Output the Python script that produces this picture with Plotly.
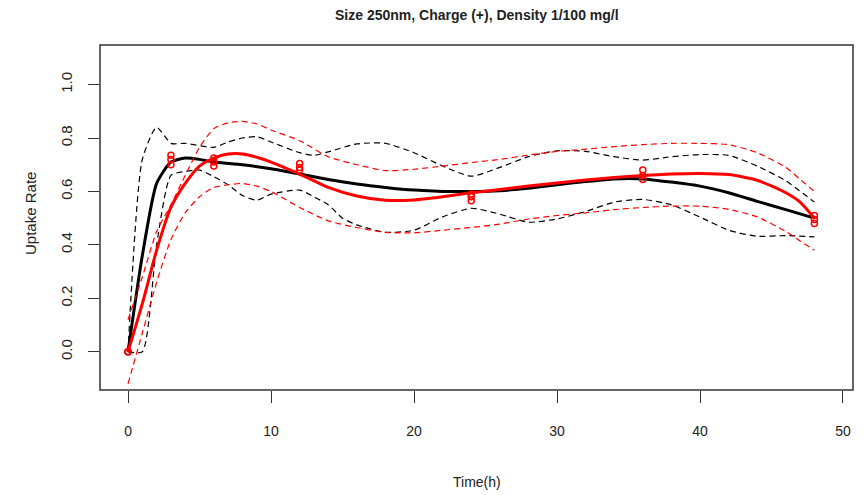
import plotly.graph_objects as go

# ---- data -------------------------------------------------------------
# smoothed mean uptake, black group
bk_t = [0, 1, 2, 3, 4, 5, 6, 8, 10, 12, 14, 16, 18, 20, 22, 24, 26, 28, 30,
        32, 34, 36, 38, 40, 42, 44, 46, 48]
bk_fit = [0.0, 0.36, 0.63, 0.71, 0.725, 0.72, 0.71, 0.70, 0.685, 0.665, 0.645,
          0.628, 0.615, 0.605, 0.60, 0.60, 0.603, 0.612, 0.625, 0.637, 0.647,
          0.647, 0.635, 0.62, 0.595, 0.563, 0.532, 0.50]

# upper band, black group
bk_hi_t = [0, 1, 2, 3, 4, 6, 7, 8, 9, 10, 12, 13, 14, 16, 18, 20, 22, 24, 26,
           28, 30, 32, 34, 36, 38, 40, 42, 44, 46, 48]
bk_hi = [0.0, 0.72, 0.84, 0.78, 0.78, 0.765, 0.785, 0.80, 0.805, 0.785, 0.745,
         0.735, 0.748, 0.778, 0.78, 0.745, 0.695, 0.657, 0.69, 0.73, 0.752,
         0.75, 0.73, 0.717, 0.73, 0.738, 0.735, 0.695, 0.64, 0.56]

# lower band, black group
bk_lo_t = [0, 1, 2, 3, 4, 5, 6, 7, 8, 9, 10, 12, 13, 14, 15, 16, 18, 20, 22,
           24, 26, 28, 30, 32, 34, 36, 38, 40, 42, 44, 46, 48]
bk_lo = [0.0, 0.0, 0.40, 0.66, 0.675, 0.68, 0.655, 0.625, 0.585, 0.567, 0.59,
         0.605, 0.58, 0.55, 0.50, 0.475, 0.447, 0.455, 0.505, 0.537, 0.515,
         0.485, 0.497, 0.525, 0.56, 0.57, 0.55, 0.504, 0.455, 0.432, 0.435,
         0.43]

# smoothed mean uptake, red group
rd_t = [0, 1, 2, 3, 4, 5, 6, 7, 8, 9, 10, 12, 14, 16, 18, 20, 22, 24, 26, 28,
        30, 32, 34, 36, 38, 40, 42, 44, 46, 47, 48]
rd_fit = [0.0, 0.18, 0.38, 0.54, 0.63, 0.695, 0.725, 0.74, 0.74, 0.728, 0.71,
          0.665, 0.615, 0.583, 0.567, 0.568, 0.58, 0.595, 0.607, 0.62, 0.632,
          0.643, 0.652, 0.66, 0.665, 0.667, 0.663, 0.642, 0.595, 0.56, 0.50]

# upper band, red group
rd_hi = [0.12, 0.28, 0.45, 0.55, 0.66, 0.765, 0.835, 0.857, 0.862, 0.853,
         0.83, 0.79, 0.73, 0.70, 0.678, 0.683, 0.695, 0.708, 0.72, 0.736,
         0.75, 0.758, 0.768, 0.775, 0.78, 0.78, 0.775, 0.745, 0.69, 0.645,
         0.60]

# lower band, red group
rd_lo = [-0.12, 0.07, 0.26, 0.42, 0.52, 0.58, 0.615, 0.625, 0.63, 0.62, 0.60,
         0.54, 0.49, 0.465, 0.447, 0.445, 0.455, 0.465, 0.478, 0.497, 0.51,
         0.52, 0.532, 0.54, 0.545, 0.545, 0.533, 0.505, 0.45, 0.415, 0.38]

# observed replicates
obs_t = [0, 0, 0, 3, 3, 3, 6, 6, 6, 12, 12, 12, 24, 24, 24, 36, 36, 36,
         48, 48, 48]
obs_y = [0.0, 0.0, 0.0, 0.735, 0.72, 0.70, 0.725, 0.71, 0.695, 0.705, 0.69,
         0.68, 0.59, 0.58, 0.565, 0.68, 0.66, 0.645, 0.51, 0.495, 0.48]

x_ticks = [0, 10, 20, 30, 40, 50]
y_ticks = [0.0, 0.2, 0.4, 0.6, 0.8, 1.0]
y_tick_text = ["0.0", "0.2", "0.4", "0.6", "0.8", "1.0"]

title_text = "Size 250nm, Charge (+), Density 1/100 mg/l"
x_title = "Time(h)"
y_title = "Uptake Rate"

# ---- figure -----------------------------------------------------------
FONT = "Liberation Sans, Arial, sans-serif"
INK = "#222222"
RED = "#ff0000"

fig = go.Figure()

dash = "6px,4px"
fig.add_trace(go.Scatter(x=bk_hi_t, y=bk_hi, mode="lines",
                         line=dict(color="#000000", width=1.2, dash=dash,
                                   shape="spline", smoothing=0.6)))
fig.add_trace(go.Scatter(x=bk_lo_t, y=bk_lo, mode="lines",
                         line=dict(color="#000000", width=1.2, dash=dash,
                                   shape="spline", smoothing=0.6)))
fig.add_trace(go.Scatter(x=bk_t, y=bk_fit, mode="lines",
                         line=dict(color="#000000", width=3,
                                   shape="spline", smoothing=0.6)))
fig.add_trace(go.Scatter(x=rd_t, y=rd_hi, mode="lines",
                         line=dict(color=RED, width=1.2, dash=dash,
                                   shape="spline", smoothing=0.6)))
fig.add_trace(go.Scatter(x=rd_t, y=rd_lo, mode="lines",
                         line=dict(color=RED, width=1.2, dash=dash,
                                   shape="spline", smoothing=0.6)))
fig.add_trace(go.Scatter(x=rd_t, y=rd_fit, mode="lines",
                         line=dict(color=RED, width=3,
                                   shape="spline", smoothing=0.6)))
fig.add_trace(go.Scatter(x=obs_t, y=obs_y, mode="markers",
                         marker=dict(symbol="circle-open", size=6,
                                     color=RED, line=dict(width=1.5, color=RED))))

fig.update_layout(
    width=864, height=495,
    margin=dict(l=100, r=11, t=45, b=105),
    paper_bgcolor="white", plot_bgcolor="white",
    showlegend=False,
    font=dict(family=FONT, color=INK, size=14),
    xaxis=dict(range=[-1.96, 50.7], tickvals=x_ticks, ticks="outside",
               ticklen=12, tickwidth=1.3, tickcolor="#333333",
               showgrid=False, zeroline=False, showline=False,
               tickfont=dict(size=14, family=FONT, color=INK),
               ticklabelstandoff=16),
    yaxis=dict(range=[-0.143, 1.148], tickvals=y_ticks, ticktext=y_tick_text,
               ticks="outside", ticklen=11, tickwidth=1.3,
               tickcolor="#333333", tickangle=-90,
               showgrid=False, zeroline=False, showline=False,
               tickfont=dict(size=15, family=FONT, color=INK),
               ticklabelstandoff=10),
    shapes=[dict(type="rect", xref="paper", yref="paper", x0=0, x1=1,
                 y0=0, y1=1, line=dict(color="#333333", width=1.5))],
    annotations=[
        dict(text="<b>" + title_text + "</b>", xref="paper", yref="paper",
             x=0.5, y=1.087, showarrow=False, xanchor="center",
             yanchor="middle", font=dict(size=14, family=FONT, color=INK)),
        dict(text=x_title, xref="paper", yref="paper", x=0.5, y=-0.267,
             showarrow=False, xanchor="center", yanchor="middle",
             font=dict(size=14, family=FONT, color=INK)),
        dict(text=y_title, xref="paper", yref="paper", x=-0.093, y=0.513,
             showarrow=False, xanchor="center", yanchor="middle",
             textangle=-90, font=dict(size=15, family=FONT, color=INK)),
    ],
)

fig.write_html("out.html")
